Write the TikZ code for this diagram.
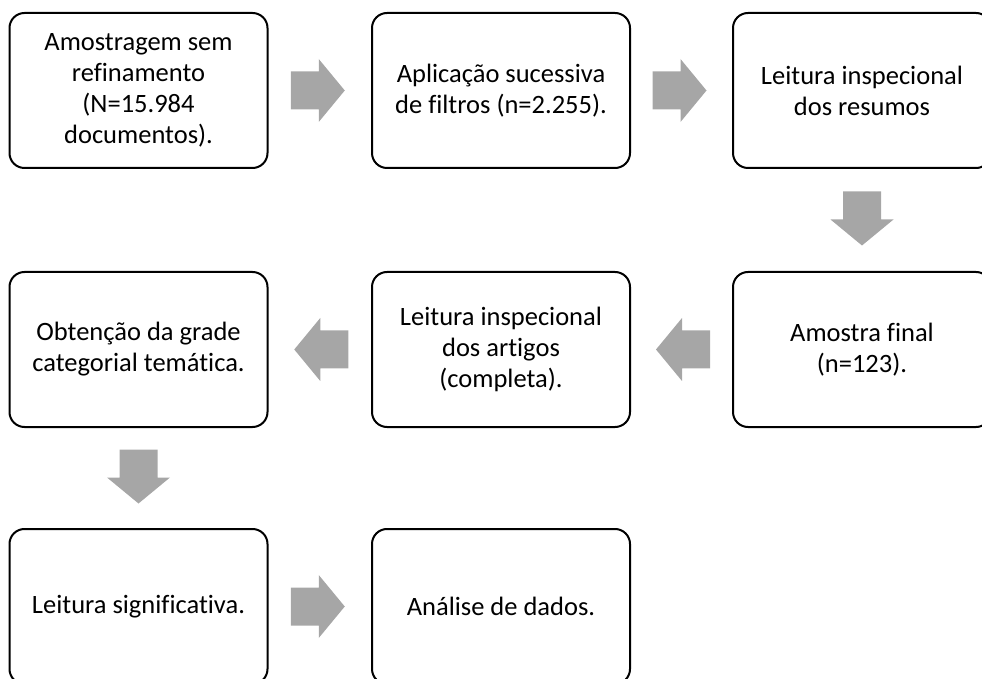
\documentclass[tikz,border=0pt]{standalone}
\usepackage{fontspec}
\setmainfont{Carlito}[Ligatures=NoCommon]
\usetikzlibrary{calc}
\definecolor{arrowgray}{HTML}{A6A6A6}
\tikzset{
  stepbox/.style={draw=black, line width=2pt, rounded corners=15pt, fill=white,
    minimum width=258pt, minimum height=155pt, align=center, inner sep=2pt,
    font=\fontsize{26.5}{31}\selectfont},
  blockarr/.pic={\fill[arrowgray] (-27,-19) -- (1,-19) -- (1,-31.5) -- (27,0) -- (1,31.5) -- (1,19) -- (-27,19) -- cycle;}
}
\begin{document}
\begin{tikzpicture}[x=1pt,y=1pt]
\useasboundingbox (0,0) rectangle (982,678);
\clip (0,0) rectangle (982,678);
\node[stepbox] (b1) at (138.5,587.5) {Amostragem sem\\refinamento\\(N=15.984\\documentos).};
\node[stepbox] (b2) at (501,587.5) {Aplicação sucessiva\\de filtros (n=2.255).};
\node[stepbox] (b3) at (862,587.5) {Leitura inspecional\\dos resumos};
\node[stepbox] (b4) at (138.5,328.5) {Obtenção da grade\\categorial temática.};
\node[stepbox] (b5) at (501,328.5) {Leitura inspecional\\dos artigos\\(completa).};
\node[stepbox] (b6) at (862,328.5) {Amostra final\\(n=123).};
\node[stepbox] (b7) at (138.5,71.5) {Leitura significativa.};
\node[stepbox] (b8) at (501,71.5) {Análise de dados.};
\pic at ($(b1.east)!0.5!(b2.west)+(-2,0)$) {blockarr};
\pic at ($(b2.east)!0.5!(b3.west)+(-2,0)$) {blockarr};
\pic[rotate=-90] at ($(b3.south)!0.5!(b6.north)+(0,1.5)$) {blockarr};
\pic[rotate=180] at ($(b6.west)!0.5!(b5.east)+(1.5,0)$) {blockarr};
\pic[rotate=180] at ($(b5.west)!0.5!(b4.east)+(1.5,0)$) {blockarr};
\pic[rotate=-90] at ($(b4.south)!0.5!(b7.north)+(0,1.5)$) {blockarr};
\pic at ($(b7.east)!0.5!(b8.west)+(-2,0)$) {blockarr};
\end{tikzpicture}
\end{document}
